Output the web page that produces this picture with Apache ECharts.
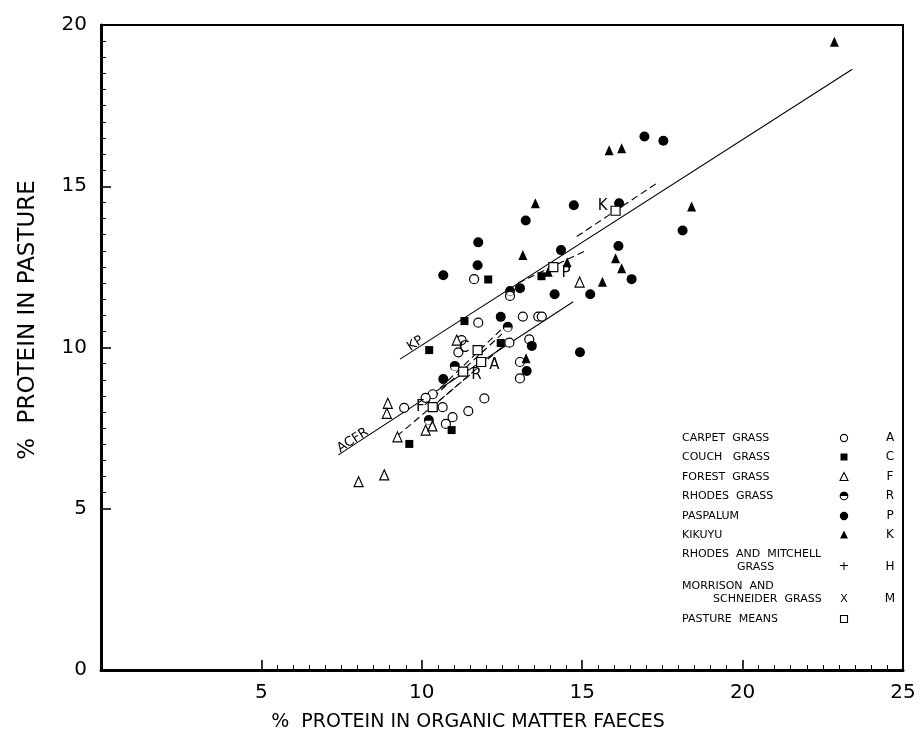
<!DOCTYPE html>
<html>
<head>
    <meta charset="utf-8">
    <title>Protein in pasture vs protein in faeces</title>
    <script src="https://cdn.jsdelivr.net/npm/echarts@6/dist/echarts.min.js"></script>
</head>
<body style="margin:0;background:#fff;">
    <div id="main" style="width:921px;height:735px;"></div>
    <script type="text/javascript">
    // each point: [% protein in organic matter faeces, % protein in pasture]
    var carpetGrass = [[11.63,12.12],[11.76,10.77],[13.15,10.96],[13.63,10.96],[13.74,10.96],
        [11.24,10.23],[11.14,9.85],[12.73,10.15],[13.35,10.25],[13.06,9.04],[11.95,8.42],
        [10.34,8.55],[10.12,8.44],[9.45,8.13],[10.65,8.15],[11.45,8.03],[10.96,7.84],
        [10.75,7.63],[12.75,11.60],[13.06,9.55]];
    var couchGrass = [[11.33,10.82],[10.23,9.92],[12.46,10.14],[10.93,7.44],[9.61,7.01],
        [12.07,12.11],[13.73,12.21]];
    var forestGrass = [[11.09,10.23],[8.94,8.27],[8.91,7.96],[9.24,7.23],[10.12,7.44],
        [10.33,7.57],[8.03,5.84],[8.83,6.05],[14.92,12.03]];
    var rhodesGrass = [[12.68,10.64],[11.03,9.43],[10.22,7.75],[12.75,11.75]];
    var paspalum = [[16.94,16.54],[17.53,16.41],[14.74,14.41],[16.15,14.47],[13.24,13.94],
        [11.76,13.26],[11.74,12.55],[14.34,13.02],[16.13,13.15],[16.54,12.12],[14.14,11.65],
        [15.25,11.65],[13.06,11.84],[12.46,10.95],[10.67,12.24],[13.27,9.27],[13.43,10.05],
        [10.67,9.02],[14.93,9.85],[18.13,13.63]];
    var kikuyu = [[22.86,19.48],[15.84,16.12],[16.23,16.18],[13.54,14.47],[13.15,12.87],
        [14.53,12.64],[16.04,12.77],[16.23,12.46],[15.63,12.04],[18.41,14.37],[13.94,12.35],
        [13.25,9.67]];
    var pastureMeans = [[11.85,9.55],[11.74,9.92],[10.34,8.15],[11.29,9.25],[14.10,12.49],[16.04,14.24]];
    var meanLetters = ['A', 'C', 'F', 'R', 'P', 'K'];

    // fitted lines (end points)
    var lineKP = [[9.32,9.64],[23.42,18.63]];
    var lineACFR = [[7.40,6.67],[14.72,11.42]];
    var dashF = [[9.23,7.26],[11.50,9.15]];
    var dashR = [[10.10,8.22],[12.50,10.42]];
    var dashA = [[10.50,8.31],[12.75,10.23]];
    var dashC = [[10.57,8.74],[12.72,10.79]];
    var dashP = [[13.00,12.00],[15.15,13.02]];
    var dashK = [[14.83,13.44],[17.32,15.09]];
    var lineTags = ['ACFR', 'KP'];
    var lineTagPoints = [[7.85,7.12],[9.80,10.12]];

    var xTickLabels = [5, 10, 15, 20, 25];
    var yTickLabels = [0, 5, 10, 15, 20];

    var legendNames = ['CARPET  GRASS', 'COUCH   GRASS', 'FOREST  GRASS', 'RHODES  GRASS',
        'PASPALUM', 'KIKUYU', 'RHODES  AND  MITCHELL', 'MORRISON  AND', 'PASTURE  MEANS'];
    var legendSecondLines = {6: 'GRASS', 7: 'SCHNEIDER  GRASS'};
    var legendLetters = ['A', 'C', 'F', 'R', 'P', 'K', 'H', 'M', ''];

    var myChart = echarts.init(document.getElementById('main'));
    var FONT = 'DejaVu Sans';
    var INK = '#000';

    var halfCircle = 'path://M0,-10A10,10,0,1,1,0,10A10,10,0,1,1,0,-10Z M7.5,1.5L-7.5,1.5A7.5,7.5,0,0,0,7.5,1.5Z';

    function fitLine(data, dashed) {
        return {
            type: 'line', data: data, symbol: 'none', silent: true, z: 1,
            lineStyle: {color: INK, width: 1.1, type: dashed ? [7, 4] : 'solid'}
        };
    }

    var meanLabelPos = {
        A: {position: 'right', offset: [0, 3]},
        C: {position: 'left', offset: [0, -2]},
        F: {position: 'left', offset: [0, 0]},
        R: {position: 'right', offset: [0, 3]},
        P: {position: 'right', offset: [0, 6]},
        K: {position: 'left', offset: [0, -5]}
    };

    // legend drawn with graphic elements: name, symbol, letter
    var legendRowY = [438, 457, 477, 496, 516, 535, 554, 586, 619];
    var symbolRowY = [438, 457, 477, 496, 516, 535, 567, 599, 619];
    var legendGraphic = [];
    legendNames.forEach(function (name, i) {
        legendGraphic.push({type: 'text', x: 682, y: legendRowY[i],
            style: {text: name, font: '11px "' + FONT + '"', fill: INK, textVerticalAlign: 'middle'}});
        if (legendSecondLines[i]) {
            legendGraphic.push({type: 'text', x: i === 6 ? 737 : 713, y: symbolRowY[i],
                style: {text: legendSecondLines[i], font: '11px "' + FONT + '"', fill: INK, textVerticalAlign: 'middle'}});
        }
        legendGraphic.push({type: 'text', x: 890, y: symbolRowY[i],
            style: {text: legendLetters[i], font: '12px "' + FONT + '"', fill: INK, textAlign: 'center', textVerticalAlign: 'middle'}});
    });
    var sx = 844;
    legendGraphic.push(
        {type: 'circle', shape: {cx: sx, cy: symbolRowY[0], r: 3.6}, style: {fill: '#fff', stroke: INK, lineWidth: 1.1}},
        {type: 'rect', shape: {x: sx - 3.5, y: symbolRowY[1] - 3.5, width: 7, height: 7}, style: {fill: INK}},
        {type: 'polygon', shape: {points: [[sx, symbolRowY[2] - 4.5], [sx + 4, symbolRowY[2] + 3.5], [sx - 4, symbolRowY[2] + 3.5]]},
            style: {fill: '#fff', stroke: INK, lineWidth: 1.1}},
        {type: 'circle', shape: {cx: sx, cy: symbolRowY[3], r: 3.8}, style: {fill: '#fff', stroke: INK, lineWidth: 1.1}},
        {type: 'sector', shape: {cx: sx, cy: symbolRowY[3], r: 4.2, r0: 0, startAngle: Math.PI, endAngle: 2 * Math.PI}, style: {fill: INK}},
        {type: 'circle', shape: {cx: sx, cy: symbolRowY[4], r: 4.2}, style: {fill: INK}},
        {type: 'polygon', shape: {points: [[sx, symbolRowY[5] - 4.5], [sx + 4, symbolRowY[5] + 3.5], [sx - 4, symbolRowY[5] + 3.5]]}, style: {fill: INK}},
        {type: 'text', x: sx, y: symbolRowY[6], style: {text: '+', font: '13px "' + FONT + '"', fill: INK, textAlign: 'center', textVerticalAlign: 'middle'}},
        {type: 'text', x: sx, y: symbolRowY[7], style: {text: 'X', font: '11px "' + FONT + '"', fill: INK, textAlign: 'center', textVerticalAlign: 'middle'}},
        {type: 'rect', shape: {x: sx - 3.5, y: symbolRowY[8] - 3.5, width: 7, height: 7}, style: {fill: '#fff', stroke: INK, lineWidth: 1.1}}
    );

    var option = {
        backgroundColor: '#fff',
        animation: false,
        grid: [
            {left: 101, right: 18, top: 25, bottom: 65, show: true, borderColor: INK, borderWidth: 2},
            {left: 261.4, right: 18, top: 25, bottom: 65},
            {left: 101, right: 18, top: 25, bottom: 226.25}
        ],
        xAxis: [
            {gridIndex: 0, type: 'value', min: 0, max: 25, interval: 5,
                axisLine: {onZero: false, lineStyle: {color: INK, width: 3}},
                axisTick: {show: false}, splitLine: {show: false},
                axisLabel: {margin: 13, color: INK, fontSize: 20, fontFamily: FONT,
                    formatter: function (v) { return xTickLabels.indexOf(v) >= 0 ? String(v) : ''; }}},
            {gridIndex: 1, type: 'value', min: 5, max: 25, interval: 5,
                axisLine: {show: false, onZero: false}, axisLabel: {show: false}, splitLine: {show: false},
                axisTick: {show: true, inside: true, length: 10, lineStyle: {color: INK, width: 1.6}},
                minorTick: {show: true, splitNumber: 10, length: 5, lineStyle: {color: INK, width: 1}}},
            {gridIndex: 2, type: 'value', min: 0, max: 1, show: false}
        ],
        yAxis: [
            {gridIndex: 0, type: 'value', min: 0, max: 20, interval: 5,
                axisLine: {onZero: false, lineStyle: {color: INK, width: 3}},
                axisTick: {show: false}, splitLine: {show: false},
                axisLabel: {margin: 14, color: INK, fontSize: 20, fontFamily: FONT,
                    formatter: function (v) { return yTickLabels.indexOf(v) >= 0 ? String(v) : ''; }}},
            {gridIndex: 1, type: 'value', min: 0, max: 1, show: false},
            {gridIndex: 2, type: 'value', min: 5, max: 20, interval: 5,
                axisLine: {show: false, onZero: false}, axisLabel: {show: false}, splitLine: {show: false},
                axisTick: {show: true, inside: true, length: 10, lineStyle: {color: INK, width: 1.6}},
                minorTick: {show: true, splitNumber: 10, length: 5, lineStyle: {color: INK, width: 1}}}
        ],
        graphic: [
            {type: 'text', x: 28, y: 320, rotation: Math.PI / 2,
                style: {text: '%  PROTEIN IN PASTURE', font: '23px "' + FONT + '"', fill: INK,
                    textAlign: 'center', textVerticalAlign: 'middle'}},
            {type: 'text', x: 468, y: 722,
                style: {text: '%  PROTEIN IN ORGANIC MATTER FAECES', font: '19px "' + FONT + '"', fill: INK,
                    textAlign: 'center', textVerticalAlign: 'middle'}}
        ].concat(legendGraphic),
        series: [
            fitLine(lineKP, false),
            fitLine(lineACFR, false),
            fitLine(dashF, true),
            fitLine(dashR, true),
            fitLine(dashA, true),
            fitLine(dashC, true),
            fitLine(dashP, true),
            fitLine(dashK, true),
            {name: 'line tags', type: 'scatter', symbolSize: 1, silent: true,
                itemStyle: {color: 'transparent'},
                data: lineTagPoints.map(function (p, i) { return {value: p, name: lineTags[i]}; }),
                label: {show: true, position: 'inside', formatter: '{b}', rotate: 33, opacity: 1,
                    color: INK, fontSize: 13, fontFamily: FONT}},
            {name: 'CARPET GRASS', type: 'scatter', data: carpetGrass, symbol: 'circle', symbolSize: 9,
                itemStyle: {color: '#fff', borderColor: INK, borderWidth: 1.2, opacity: 1}, z: 3},
            {name: 'COUCH GRASS', type: 'scatter', data: couchGrass, symbol: 'rect', symbolSize: 8,
                itemStyle: {color: INK, opacity: 1}, z: 3},
            {name: 'FOREST GRASS', type: 'scatter', data: forestGrass, symbol: 'triangle', symbolSize: [9, 10],
                itemStyle: {color: '#fff', borderColor: INK, borderWidth: 1.2, opacity: 1}, z: 3},
            {name: 'RHODES GRASS', type: 'scatter', data: rhodesGrass, symbol: halfCircle, symbolSize: 10,
                itemStyle: {color: INK, opacity: 1}, z: 3},
            {name: 'PASPALUM', type: 'scatter', data: paspalum, symbol: 'circle', symbolSize: 10,
                itemStyle: {color: INK, opacity: 1}, z: 3},
            {name: 'KIKUYU', type: 'scatter', data: kikuyu, symbol: 'triangle', symbolSize: [9, 10],
                itemStyle: {color: INK, opacity: 1}, z: 3},
            {name: 'PASTURE MEANS', type: 'scatter', symbol: 'rect', symbolSize: 9, z: 4,
                itemStyle: {color: '#fff', borderColor: INK, borderWidth: 1.2, opacity: 1},
                data: pastureMeans.map(function (p, i) {
                    var pos = meanLabelPos[meanLetters[i]];
                    return {value: p, name: meanLetters[i], label: {position: pos.position, offset: pos.offset}};
                }),
                label: {show: true, formatter: '{b}', distance: 3, opacity: 1, color: INK, fontSize: 15, fontFamily: FONT}}
        ]
    };

    myChart.setOption(option);
    </script>
</body>
</html>
